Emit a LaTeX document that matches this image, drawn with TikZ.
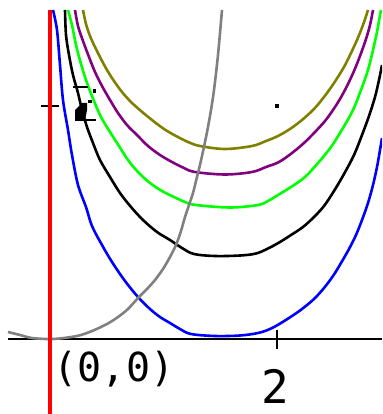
\documentclass[tikz,border=0pt]{standalone}
\usepackage{fontspec}
\newfontfamily\plotfont{DejaVu Sans Mono}
\usepackage{xcolor}
\usepackage{tikz}
\definecolor{olivec}{RGB}{128,128,0}
\definecolor{purplec}{RGB}{128,0,128}
\definecolor{greenc}{RGB}{0,255,0}
\definecolor{greyc}{RGB}{128,128,128}

\begin{document}
\begin{tikzpicture}[
    x=1pt, y=-1pt,
    level/.style={line width=2.6pt, line join=round},
    axisline/.style={line width=2.6pt, black},
    lbl/.style={font=\plotfont, inner sep=0pt}
]
\useasboundingbox (0,0) rectangle (382,414);

% axes
\draw[axisline] (8,339) -- (382,339);
\draw[axisline] (41,106) -- (59,106);
\draw[axisline] (277,330) -- (277,349);

\begin{scope}
\clip (0,10) rectangle (382,414);
% level curves
\draw[level, blue] plot[smooth, tension=0.55] coordinates {(53,10) (57,30) (60,65) (63,100) (68,130) (72,155) (78,185) (86,207) (92,226) (102,245) (112,262) (125,281) (138,297) (150,309) (160,317) (170,323) (180,329) (191,334) (215,336) (240,335.5) (258,333) (270,329) (281,323) (292,316) (302,309) (314,299) (324,288) (333,276) (341,263) (349,249) (356,235) (362,220) (368,203) (373,185) (377,167) (380,150) (382,138)};
\draw[level, black] plot[smooth, tension=0.55] coordinates {(65,10) (66,35) (69,55) (73,75) (78,93) (82,110) (87,127) (93,143) (100,160) (110,177) (120,193) (131,207) (143,220) (157,232) (170,240) (182,248) (194,254) (215,256) (240,255.5) (256,253.5) (268,248.5) (280,242) (291,235) (303,227) (314,217) (324,206) (334,191) (344,174) (354,155) (362,135) (369,116) (375,97) (379,80) (382,65)};
\draw[level, greenc] plot[smooth, tension=0.55] coordinates {(68,10) (72,25) (76,45) (81,64) (87,83) (94,101) (101,117) (110,132) (119,146) (128,160) (138,172) (150,183) (162,191) (174,197) (185,202) (196,205) (230,207.5) (258,205) (268,201) (278,195) (291,187) (305,177) (318,163) (331,147) (343,128) (353,110) (361,90) (368,70) (373,50) (377,32) (380,15) (381,10)};
\draw[level, purplec] plot[smooth, tension=0.55] coordinates {(75,10) (78,26) (83,41) (89,57) (95,72) (102,86) (110,100) (118,113) (127,125) (137,135) (148,146) (160,155) (172,162) (184,168) (195,172) (225,174.5) (252,172) (266,167) (279,162) (292,153) (304,143) (315,132) (325,121) (333,110) (340,99) (347,86) (354,71) (360,56) (366,39) (370,25) (373,10)};
\draw[level, olivec] plot[smooth, tension=0.55] coordinates {(83,10) (86,24) (90,36) (95,47) (101,59) (107,70) (114,81) (122,92) (131,102) (141,111) (152,120) (164,129) (176,136) (188,142) (200,146) (225,149) (252,146) (266,141) (278,136) (290,129) (302,120) (314,109) (324,97) (334,83) (344,67) (351,53) (357,40) (363,25) (368,10)};
% gradient path
\draw[level, greyc] plot[smooth, tension=0.5] coordinates {(8,332) (20,335) (32,338) (53,339) (77,336) (92,331) (107,324) (118,317) (128,309) (138,298) (147,289) (155,280) (163,269) (170,257) (176,245) (181,231) (185,217) (189,205) (193,193) (196,181) (199,169) (202,156) (205,142) (208,127) (211,110) (214,90) (218,55) (222,10)};
\end{scope}

% y axis
\draw[red, line width=4pt] (50,10) -- (50,414);

% marks
\draw[line width=2.6pt] (73,87) -- (88,87);
\fill (93,89) rectangle (96,93);
\fill (88,100) rectangle (92,103);
\fill (82,103) -- (87,103) -- (87,110) -- (85,120) -- (75,120) -- (75,110) -- cycle;
\draw[line width=2.6pt] (75,120) -- (96,120);
\fill (275,104) rectangle (279,108);

% labels
\node[lbl, font=\plotfont\fontsize{40}{40}\selectfont] (origin) at (114,369) {(0,0)};
\node[lbl, font=\plotfont\fontsize{46}{46}\selectfont] (two) at (275,386) {2};
\end{tikzpicture}
\end{document}
